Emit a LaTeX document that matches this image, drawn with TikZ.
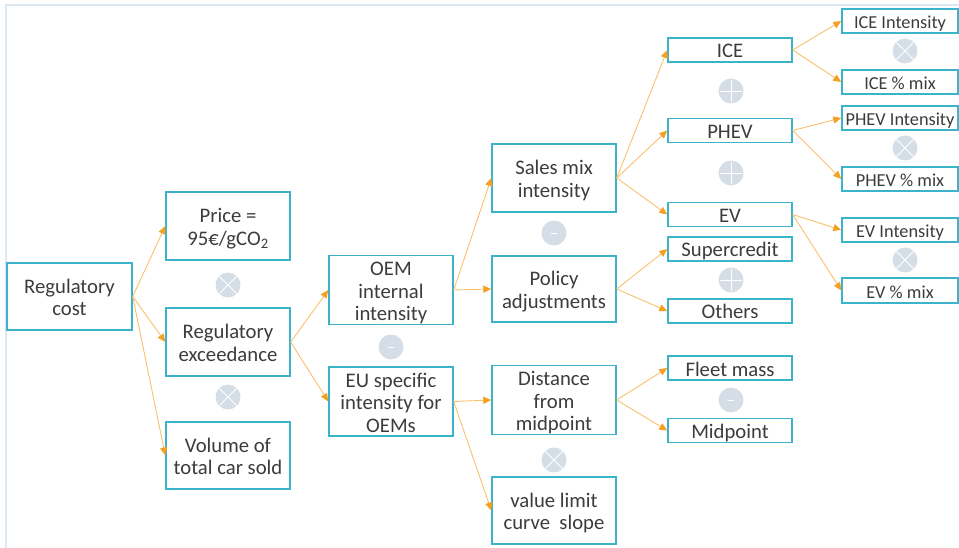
\documentclass[tikz,border=0pt]{standalone}
\usepackage{fontspec}
\setmainfont{Carlito}
\usetikzlibrary{arrows.meta}

\definecolor{boxline}{HTML}{3BB3CB}
\definecolor{txt}{HTML}{3C3C3C}
\definecolor{link}{HTML}{FAC06E}
\definecolor{tipc}{HTML}{F5A023}
\definecolor{opfill}{HTML}{D5DEE7}
\definecolor{framec}{HTML}{DCE8F4}

% struts fixing the first-line height and last-line depth of box texts
\newcommand{\topstrut}{\rule{0pt}{20pt}}
\newcommand{\botstrut}{\rule[-4pt]{0pt}{4pt}}

\tikzset{
  box/.style={draw=boxline, line width=1.4pt, fill=white, text=txt, align=center,
    inner sep=0pt, font=\fontsize{20.7}{22.5}\selectfont},
  big/.style={box, minimum width=124pt, minimum height=68pt},
  slim/.style={box, minimum width=124pt, minimum height=24pt},
  leaf/.style={box, minimum width=116pt, minimum height=24pt, font=\fontsize{18.3}{21}\selectfont},
  conn/.style={draw=link, line width=0.9pt, -{Triangle[length=8pt,width=7pt,color=tipc]}},
  op/.style={circle, fill=opfill, minimum size=25pt, inner sep=0pt},
  optimes/.style={op, path picture={
    \draw[white, line width=0.9pt]
      ([shift={(-8.5pt,-8.5pt)}]path picture bounding box.center) -- ++(17pt,17pt)
      ([shift={(-8.5pt,8.5pt)}]path picture bounding box.center) -- ++(17pt,-17pt);}},
  opplus/.style={op, path picture={
    \draw[white, line width=0.9pt]
      ([shift={(-11pt,0pt)}]path picture bounding box.center) -- ++(22pt,0pt)
      ([shift={(0pt,-11pt)}]path picture bounding box.center) -- ++(0pt,22pt);}},
  opminus/.style={op, path picture={
    \draw[white, line width=0.9pt]
      ([shift={(-3pt,0pt)}]path picture bounding box.center) -- ++(6pt,0pt);}},
}

\begin{document}
\begin{tikzpicture}[x=1pt, y=-1pt]
  \useasboundingbox (0,0) rectangle (959,548);
  % page frame (top and left edges)
  \draw[framec, line width=2pt] (6,548) -- (6,5) -- (959,5);

  % level 0
  \node[big, minimum width=125pt, minimum height=67pt] (rc) at (69.5,296.5) {\topstrut Regulatory\\cost\botstrut};

  % level 1
  \node[big] (price) at (228,226) {\topstrut Price =\\95€/gCO\textsubscript{2}\botstrut};
  \node[big] (exc) at (228,342) {\topstrut Regulatory\\exceedance\botstrut};
  \node[big, minimum height=67pt] (vol) at (228,455.5) {\topstrut Volume of\\total car sold\botstrut};
  \node[optimes] (o1) at (228,285) {};
  \node[optimes] (o2) at (228,397) {};

  % level 2
  \node[big] (oem) at (391,290) {\topstrut OEM\\internal\\intensity\botstrut};
  \node[big, minimum height=67pt] (eu) at (391,401.5) {\topstrut EU specific\\intensity for\\OEMs\botstrut};
  \node[opminus] (o3) at (391,347) {};

  % level 3
  \node[big] (sales) at (554,178) {\topstrut Sales mix\\intensity\botstrut};
  \node[big, minimum height=66pt] (policy) at (554,289) {\topstrut Policy\\adjustments\botstrut};
  \node[big] (dist) at (554,400) {\topstrut Distance\\from\\midpoint\botstrut};
  \node[big, minimum height=67pt] (slope) at (554,510.5) {\topstrut value limit\\curve\ \ slope\botstrut};
  \node[opminus] (o4) at (554,233) {};
  \node[optimes] (o5) at (554,460) {};

  % level 4
  \node[slim] (ice) at (730,50) {\topstrut ICE\botstrut};
  \node[slim] (phev) at (730,130.5) {\topstrut PHEV\botstrut};
  \node[slim] (ev) at (730,214.5) {\topstrut EV\botstrut};
  \node[slim] (sc) at (730,249) {\topstrut Supercredit\botstrut};
  \node[slim] (oth) at (730,311) {\topstrut Others\botstrut};
  \node[slim] (fleet) at (730,368) {\topstrut Fleet mass\botstrut};
  \node[slim, minimum height=23pt] (mid) at (730,430.5) {\topstrut Midpoint\botstrut};
  \node[opplus] (o6) at (731,91) {};
  \node[opplus] (o7) at (731,173) {};
  \node[opplus] (o8) at (731,280) {};
  \node[opminus] (o9) at (731,400) {};

  % level 5
  \node[leaf] (iceI) at (900,21) {\topstrut ICE Intensity\botstrut};
  \node[leaf] (iceM) at (900,82) {\topstrut ICE \% mix\botstrut};
  \node[leaf] (phevI) at (900,118) {\topstrut PHEV Intensity\botstrut};
  \node[leaf] (phevM) at (900,179) {\topstrut PHEV \% mix\botstrut};
  \node[leaf] (evI) at (900,230) {\topstrut EV Intensity\botstrut};
  \node[leaf, minimum height=25pt] (evM) at (900,290.5) {\topstrut EV \% mix\botstrut};
  \node[optimes] (o10) at (905,51) {};
  \node[optimes] (o11) at (905,148) {};
  \node[optimes] (o12) at (905,260) {};

  % connectors
  \draw[conn] (rc.east) -- (price.west);
  \draw[conn] (rc.east) -- (exc.west);
  \draw[conn] (rc.east) -- (vol.west);
  \draw[conn] (exc.east) -- (oem.west);
  \draw[conn] (exc.east) -- (eu.west);
  \draw[conn] (oem.east) -- (sales.west);
  \draw[conn] (oem.east) -- (policy.west);
  \draw[conn] (eu.east) -- (dist.west);
  \draw[conn] (eu.east) -- (slope.west);
  \draw[conn] (sales.east) -- (ice.west);
  \draw[conn] (sales.east) -- (phev.west);
  \draw[conn] (sales.east) -- (ev.west);
  \draw[conn] (policy.east) -- (sc.west);
  \draw[conn] (policy.east) -- (oth.west);
  \draw[conn] (dist.east) -- (fleet.west);
  \draw[conn] (dist.east) -- (mid.west);
  \draw[conn] (ice.east) -- (iceI.west);
  \draw[conn] (ice.east) -- (iceM.west);
  \draw[conn] (phev.east) -- (phevI.west);
  \draw[conn] (phev.east) -- (phevM.west);
  \draw[conn] (ev.east) -- (evI.west);
  \draw[conn] (ev.east) -- (evM.west);
\end{tikzpicture}
\end{document}
